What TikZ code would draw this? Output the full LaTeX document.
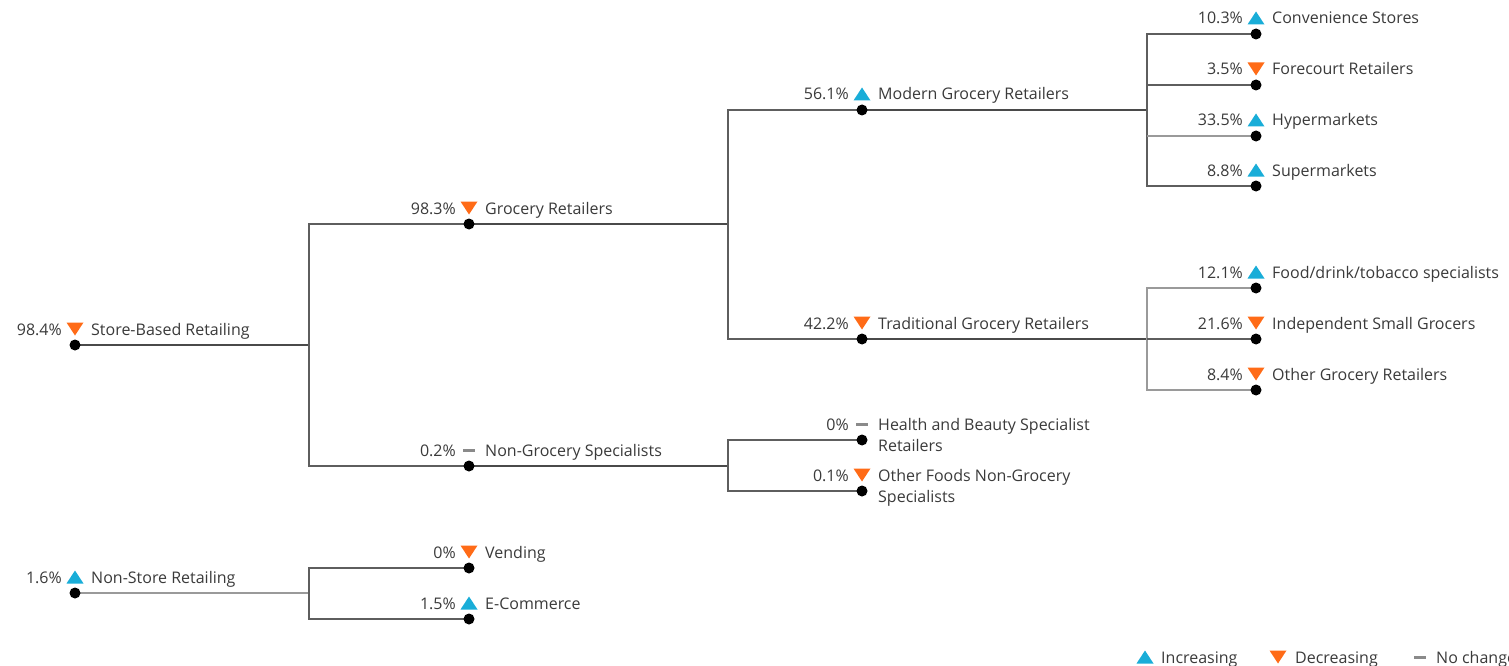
\documentclass[tikz,border=0pt]{standalone}
\usepackage{fontspec}
\setmainfont{Open Sans}
\definecolor{upc}{HTML}{19ADD8}
\definecolor{downc}{HTML}{FF6B17}
\definecolor{txt}{HTML}{3A3A3A}
\definecolor{stem}{HTML}{4A4A4A}
\definecolor{brk}{HTML}{5E5E5E}
\definecolor{lite}{HTML}{9A9A9A}
\definecolor{dashc}{HTML}{8A8A8A}
\tikzset{
  dot/.style={circle,fill=black,inner sep=0pt,minimum size=11pt},
  pct/.style={anchor=base east,inner sep=0pt,text=txt,font=\fontsize{16}{21}\selectfont},
  lbl/.style={anchor=base west,inner sep=0pt,text=txt,font=\fontsize{16}{21}\selectfont,align=left},
  stemline/.style={draw=stem,line width=1.1pt},
  brkline/.style={draw=brk,line width=1.4pt},
  liteline/.style={draw=lite,line width=1.4pt},
  upmark/.pic={\fill[upc] (-8.5,6.5)--(8.5,6.5)--(0,-6.5)--cycle;},
  downmark/.pic={\fill[downc] (-8.5,-6.5)--(8.5,-6.5)--(0,6.5)--cycle;},
  samemark/.pic={\fill[dashc] (-6,-1.5) rectangle (6,1.5);}
}
% #7: extra downward shift of the label baseline (for two-line labels)
\newcommand\treeitem[7][0]{%
  \node[dot] (#2) at (#3,#4) {};
  \node[pct] (#2-p) at (#3-13,#4-10) {#5};
  \pic at (#3,#4-16) {#6};
  \node[lbl] (#2-t) at (#3+16,#4-10+#1) {#7};
}
\begin{document}
\begin{tikzpicture}[x=1pt,y=-1pt]
\useasboundingbox (0,0) rectangle (1509,666);
\clip (0,0) rectangle (1509,666);
% junction coordinates
\coordinate (j1) at (309,345);
\coordinate (j2) at (728,224);
\coordinate (j3) at (1147,110);
\coordinate (j4) at (1147,339);
\coordinate (j5) at (728,466);
\coordinate (j6) at (309,593);
% connectors (drawn first, under dots)
\draw[stemline] (75,345) -- (j1);
\draw[brkline] (469,224) -| (j1) |- (469,466);
\draw[stemline] (469,224) -- (j2);
\draw[brkline] (862,110) -| (j2) |- (862,339);
\draw[stemline] (862,110) -- (j3);
\draw[brkline] (1256,34) -| (j3) |- (1256,186);
\draw[brkline] (j3 |- 1256,85) -- (1256,85);
\draw[liteline] (j3 |- 1256,136) -- (1256,136);
\draw[stemline] (862,339) -- (j4);
\draw[liteline] (1256,288) -| (j4) |- (1256,390);
\draw[brkline] (j4) -- (1256,339);
\draw[stemline] (469,466) -- (j5);
\draw[brkline] (862,440) -| (j5) |- (862,491);
\draw[liteline] (75,593) -- (j6);
\draw[brkline] (469,568) -| (j6) |- (469,619);
% items
\treeitem{sbr}{75}{345}{98.4\%}{downmark}{Store-Based Retailing}
\treeitem{gr}{469}{224}{98.3\%}{downmark}{Grocery Retailers}
\treeitem{mgr}{862}{110}{56.1\%}{upmark}{Modern Grocery Retailers}
\treeitem{cs}{1256}{34}{10.3\%}{upmark}{Convenience Stores}
\treeitem{fr}{1256}{85}{3.5\%}{downmark}{Forecourt Retailers}
\treeitem{hm}{1256}{136}{33.5\%}{upmark}{Hypermarkets}
\treeitem{sm}{1256}{186}{8.8\%}{upmark}{Supermarkets}
\treeitem{tgr}{862}{339}{42.2\%}{downmark}{Traditional Grocery Retailers}
\treeitem{fdt}{1256}{288}{12.1\%}{upmark}{Food/drink/tobacco specialists}
\treeitem{isg}{1256}{339}{21.6\%}{downmark}{Independent Small Grocers}
\treeitem{ogr}{1256}{390}{8.4\%}{downmark}{Other Grocery Retailers}
\treeitem{ngs}{469}{466}{0.2\%}{samemark}{Non-Grocery Specialists}
\treeitem[21]{hbs}{862}{440}{0\%}{samemark}{Health and Beauty Specialist\\Retailers}
\treeitem[21]{ofn}{862}{491}{0.1\%}{downmark}{Other Foods Non-Grocery\\Specialists}
\treeitem{nsr}{75}{593}{1.6\%}{upmark}{Non-Store Retailing}
\treeitem{ven}{469}{568}{0\%}{downmark}{Vending}
\treeitem{ecm}{469}{619}{1.5\%}{upmark}{E-Commerce}
% legend
\pic at (1145,657) {upmark};
\node[lbl] (leg-up) at (1161,663) {Increasing};
\pic at (1278,657) {downmark};
\node[lbl] (leg-down) at (1295,663) {Decreasing};
\pic at (1420,657) {samemark};
\node[lbl] (leg-same) at (1436,663) {No change};
\end{tikzpicture}
\end{document}
